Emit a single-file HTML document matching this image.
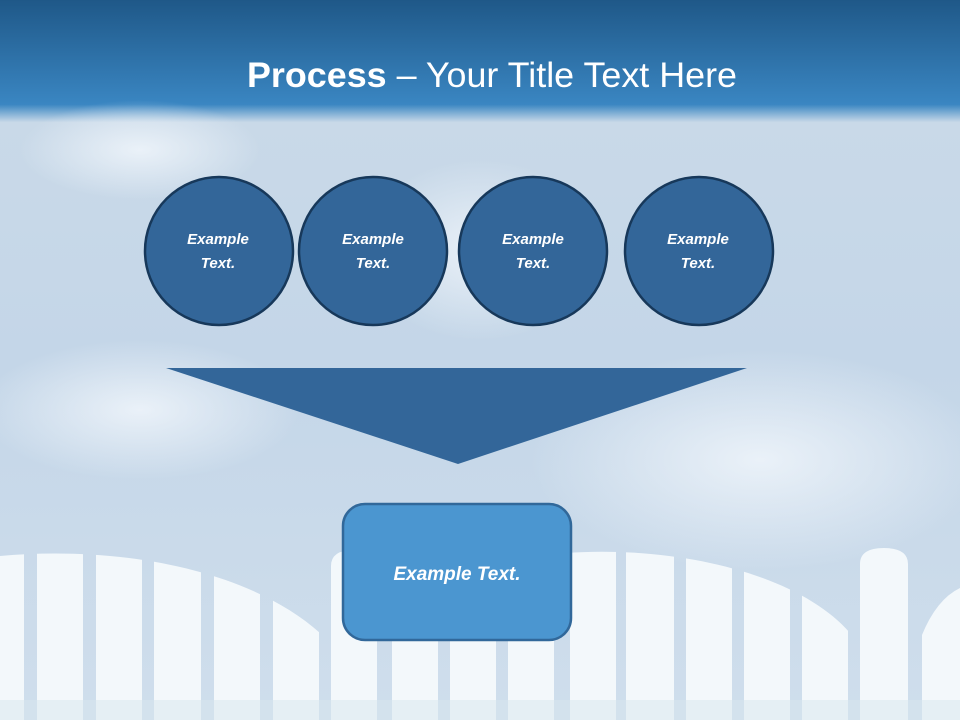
<!DOCTYPE html>
<html><head><meta charset="utf-8"><style>
body{margin:0;width:960px;height:720px;overflow:hidden;}
svg{display:block}
</style></head><body>
<svg width="960" height="720" viewBox="0 0 960 720" xmlns="http://www.w3.org/2000/svg">
<defs>
<linearGradient id="bg" x1="0" y1="0" x2="0" y2="1">
<stop offset="0" stop-color="#1f5888"/>
<stop offset="0.145" stop-color="#3a86c2"/>
<stop offset="0.17" stop-color="#c9d9e8"/>
<stop offset="0.5" stop-color="#c4d6e8"/>
<stop offset="1" stop-color="#cfdeec"/>
</linearGradient>
<radialGradient id="cl" cx="0.5" cy="0.5" r="0.5">
<stop offset="0" stop-color="#eef4fa" stop-opacity="0.9"/>
<stop offset="1" stop-color="#eef4fa" stop-opacity="0"/>
</radialGradient>
<clipPath id="fence">
<path d="M0 556 C120 545 250 570 320 633 L320 720 L0 720 Z"/>
<path d="M331 720 V566 Q331 550 354 550 Q377 550 377 566 V720Z"/>
<rect x="388" y="555" width="180" height="165"/>
<path d="M565 553 C680 545 800 575 850 633 V720 H565Z"/>
<path d="M860 720 V564 Q860 548 884 548 Q908 548 908 564 V720Z"/>
<path d="M920 720 V640 Q935 600 960 588 V720Z"/>
</clipPath>
</defs>
<rect width="960" height="720" fill="url(#bg)"/>
<ellipse cx="760" cy="460" rx="230" ry="110" fill="url(#cl)"/>
<ellipse cx="140" cy="410" rx="160" ry="70" fill="url(#cl)"/>
<ellipse cx="480" cy="250" rx="120" ry="90" fill="url(#cl)"/>
<ellipse cx="140" cy="150" rx="120" ry="50" fill="url(#cl)"/>
<g fill="#f3f8fb" clip-path="url(#fence)">
<rect x="0" y="540" width="24" height="180"/>
<rect x="37" y="540" width="46" height="180"/>
<rect x="96" y="540" width="46" height="180"/>
<rect x="154" y="540" width="47" height="180"/>
<rect x="214" y="540" width="46" height="180"/>
<rect x="273" y="540" width="46" height="180"/>
<rect x="331" y="540" width="46" height="180"/>
<rect x="392" y="540" width="46" height="180"/>
<rect x="450" y="540" width="46" height="180"/>
<rect x="508" y="540" width="46" height="180"/>
<rect x="570" y="540" width="46" height="180"/>
<rect x="626" y="540" width="48" height="180"/>
<rect x="686" y="540" width="46" height="180"/>
<rect x="744" y="540" width="46" height="180"/>
<rect x="802" y="540" width="46" height="180"/>
<rect x="860" y="540" width="48" height="180"/>
<rect x="922" y="540" width="38" height="180"/>
</g>
<rect x="0" y="700" width="960" height="20" fill="#d8e6ee" opacity="0.5"/>
<text x="492" y="87" text-anchor="middle" font-family="Liberation Sans, sans-serif" font-size="35" fill="#fff" textLength="490" lengthAdjust="spacingAndGlyphs"><tspan font-weight="bold">Process</tspan> – Your Title Text Here</text>
<g fill="#336699" stroke="#17385a" stroke-width="2.5">
<circle cx="219" cy="251" r="74"/>
<circle cx="373" cy="251" r="74"/>
<circle cx="533" cy="251" r="74"/>
<circle cx="699" cy="251" r="74"/>
</g>
<g font-family="Liberation Sans, sans-serif" font-size="15" font-weight="bold" font-style="italic" fill="#fff" text-anchor="middle">
<text x="218" y="244">Example</text><text x="218" y="268">Text.</text>
<text x="373" y="244">Example</text><text x="373" y="268">Text.</text>
<text x="533" y="244">Example</text><text x="533" y="268">Text.</text>
<text x="698" y="244">Example</text><text x="698" y="268">Text.</text>
</g>
<polygon points="166,368 747,368 458,464" fill="#336699"/>
<rect x="343" y="504" width="228" height="136" rx="22" fill="#4b96d0" stroke="#31689a" stroke-width="2.5"/>
<text x="457" y="580" text-anchor="middle" font-family="Liberation Sans, sans-serif" font-size="19" font-weight="bold" font-style="italic" fill="#fff">Example Text.</text>
</svg>
</body></html>
